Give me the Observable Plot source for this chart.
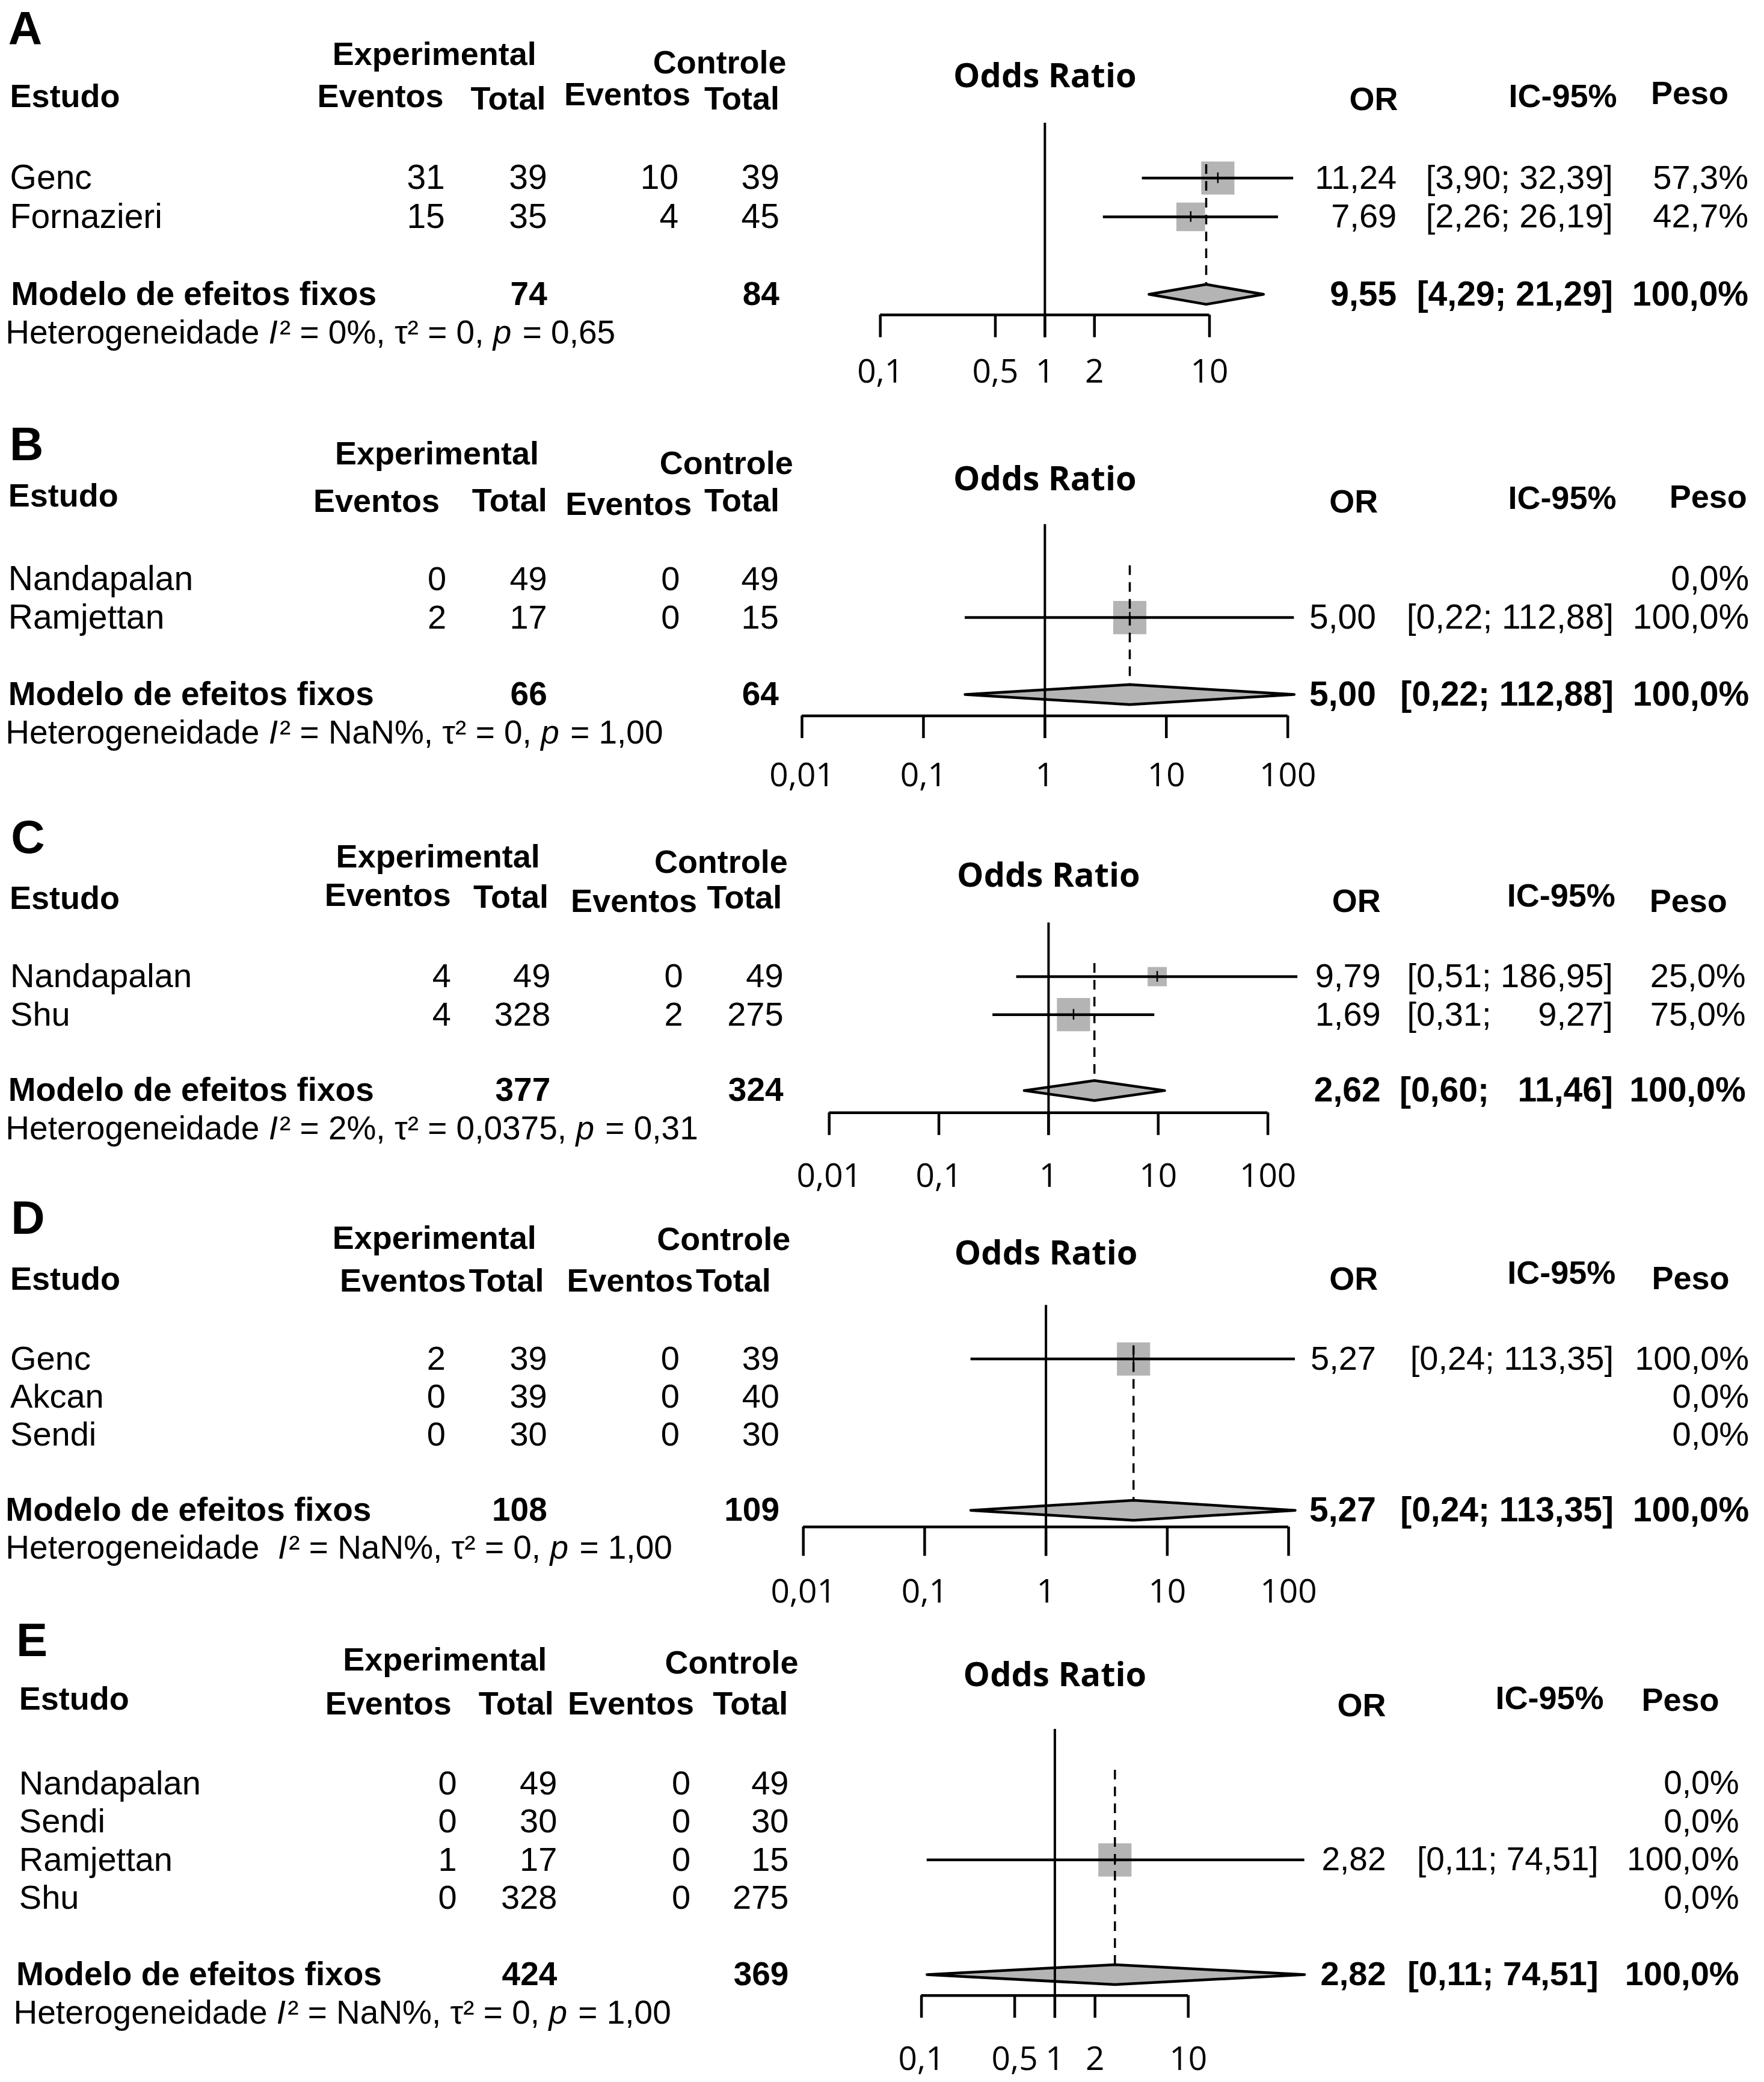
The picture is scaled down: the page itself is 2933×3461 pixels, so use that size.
<!DOCTYPE html>
<html>
<head>
<meta charset="utf-8">
<script src="https://cdn.jsdelivr.net/npm/d3@7"></script>
<script src="https://cdn.jsdelivr.net/npm/@observablehq/plot@0.6"></script>
<style>
html, body { margin: 0; padding: 0; background: #fff; }
#fig { position: relative; width: 2933px; height: 3461px; overflow: hidden; background: #fff; }
#fig svg { position: absolute; left: 0; background: transparent !important; max-width: none !important; }
</style>
</head>
<body>
<div id="fig"></div>
<script>
// ---------------- data ----------------
const panelLetters = ["A", "B", "C", "D", "E"];
const groupHeaders = ["Experimental", "Controle"];
const columnHeaders = ["Estudo", "Eventos", "Total", "Eventos", "Total"];
const rightHeaders = ["OR", "IC-95%", "Peso"];
const forestTitle = "Odds Ratio";
const modelLabel = "Modelo de efeitos fixos";
const hetLabel = "Heterogeneidade";

// Panel A
const studiesA = ["Genc", "Fornazieri"];
const expEventsA = [31, 15];
const expTotalA = [39, 35];
const ctlEventsA = [10, 4];
const ctlTotalA = [39, 45];
const orA = [11.24, 7.69];
const lowerA = [3.90, 2.26];
const upperA = [32.39, 26.19];
const weightA = [57.3, 42.7];
const pooledA = [9.55, 4.29, 21.29];
const totalsA = [74, 84];
const ticksA = [0.1, 0.5, 1, 2, 10];

// Panel B
const studiesB = ["Nandapalan", "Ramjettan"];
const expEventsB = [0, 2];
const expTotalB = [49, 17];
const ctlEventsB = [0, 0];
const ctlTotalB = [49, 15];
const orB = [null, 5.00];
const lowerB = [null, 0.22];
const upperB = [null, 112.88];
const weightB = [0, 100];
const pooledB = [5.00, 0.22, 112.88];
const totalsB = [66, 64];
const ticksB = [0.01, 0.1, 1, 10, 100];

// Panel C
const studiesC = ["Nandapalan", "Shu"];
const expEventsC = [4, 4];
const expTotalC = [49, 328];
const ctlEventsC = [0, 2];
const ctlTotalC = [49, 275];
const orC = [9.79, 1.69];
const lowerC = [0.51, 0.31];
const upperC = [186.95, 9.27];
const weightC = [25.0, 75.0];
const pooledC = [2.62, 0.60, 11.46];
const totalsC = [377, 324];
const ticksC = [0.01, 0.1, 1, 10, 100];

// Panel D
const studiesD = ["Genc", "Akcan", "Sendi"];
const expEventsD = [2, 0, 0];
const expTotalD = [39, 39, 30];
const ctlEventsD = [0, 0, 0];
const ctlTotalD = [39, 40, 30];
const orD = [5.27, null, null];
const lowerD = [0.24, null, null];
const upperD = [113.35, null, null];
const weightD = [100, 0, 0];
const pooledD = [5.27, 0.24, 113.35];
const totalsD = [108, 109];
const ticksD = [0.01, 0.1, 1, 10, 100];

// Panel E
const studiesE = ["Nandapalan", "Sendi", "Ramjettan", "Shu"];
const expEventsE = [0, 0, 1, 0];
const expTotalE = [49, 30, 17, 328];
const ctlEventsE = [0, 0, 0, 0];
const ctlTotalE = [49, 30, 15, 275];
const orE = [null, null, 2.82, null];
const lowerE = [null, null, 0.11, null];
const upperE = [null, null, 74.51, null];
const weightE = [0, 0, 100, 0];
const pooledE = [2.82, 0.11, 74.51];
const totalsE = [424, 369];
const ticksE = [0.1, 0.5, 1, 2, 10];

// heterogeneity statistics per panel (A..E)
const hetI2 = [0, NaN, 2, NaN, NaN];
const hetTau2 = [0, 0, 0.0375, 0, 0];
const hetP = [0.65, 1.00, 0.31, 1.00, 1.00];

// ---------------- layout (reference units; 1329 wide) ----------------
const W = 2933;
const S = 2933 / 1329;
const LIB = "'Liberation Sans', Arial, sans-serif";
const OPEN = "'Open Sans', 'Noto Sans', sans-serif";

const layouts = [
  { top: 0, bottom: 305, y0: 133.9, step: 29.2, modelRow: 3,
    letter: [6, 22], groups: [[327, 40.8], [542, 47]],
    heads: [[7.3, 72.8], [334, 72.8], [411, 74.6], [520, 71.4], [587, 74.6]],
    nameX: 7.3, cols: [335, 412, 511, 587], modelX: 8, hetX: 4, titleY: 57.4,
    rheads: [[1053, 75], [1218, 72.4], [1302, 70.5]], rcols: [1052, 1215, 1317],
    axis: [663, 911], axisY: 237, tickBottom: 254, tickLabel: 280 },
  { top: 305, bottom: 600, y0: 436, step: 29, modelRow: 3,
    letter: [7, 335], groups: [[329, 342], [547, 349]],
    heads: [[6, 373.6], [331, 377.5], [412, 377], [521, 380], [587, 377]],
    nameX: 6, cols: [336, 412, 512, 586.5], modelX: 6, hetX: 4, titleY: 361,
    rheads: [[1038, 378], [1217.5, 375.5], [1316, 374.5]], rcols: [1036.5, 1215.5, 1317.5],
    axis: [604, 970], axisY: 539, tickBottom: 556, tickLabel: 584 },
  { top: 600, bottom: 895, y0: 735.5, step: 28.6, modelRow: 3,
    letter: [8, 631], groups: [[329.7, 645.3], [543, 649.5]],
    heads: [[7, 676.7], [339.5, 674.6], [413, 675.8], [525, 679], [589, 676]],
    nameX: 7.5, cols: [339.6, 414.5, 514.4, 590], modelX: 6, hetX: 4, titleY: 659.5,
    rheads: [[1040, 679], [1216.8, 675], [1301, 679]], rcols: [1040, 1215, 1315],
    axis: [624.5, 955], axisY: 838, tickBottom: 855, tickLabel: 886 },
  { top: 895, bottom: 1210, y0: 1023.5, step: 28.5, modelRow: 4,
    letter: [8, 918], groups: [[327, 932.7], [545, 933.8]],
    heads: [[7.5, 963.6], [351, 965], [409.6, 965], [522, 965], [580.6, 965]],
    nameX: 7.5, cols: [335.5, 412, 511.7, 587], modelX: 4, hetX: 4, titleY: 944,
    rheads: [[1038, 963.6], [1217, 959], [1302.7, 963]], rcols: [1036.5, 1215.5, 1317.5],
    axis: [605, 970.6], axisY: 1150, tickBottom: 1172, tickLabel: 1199 },
  { top: 1210, bottom: 1568, y0: 1343.3, step: 28.8, modelRow: 5,
    letter: [12, 1236], groups: [[335, 1250.3], [551, 1252.5]],
    heads: [[14.2, 1280], [340, 1283.3], [417, 1283.3], [522.7, 1283.3], [593.5, 1283.3]],
    nameX: 14.2, cols: [344, 419.5, 520, 594], modelX: 12, hetX: 10, titleY: 1262,
    rheads: [[1044, 1285], [1208, 1279.6], [1295, 1281]], rcols: [1044, 1204, 1310],
    axis: [694, 895], axisY: 1503, tickBottom: 1520, tickLabel: 1551 }
];

const fonts = [
  { name: [LIB, 57], num: [LIB, 57], right: [LIB, 56], sum: [LIB, 57] },
  { name: [LIB, 57], num: [LIB, 56], right: [LIB, 57], sum: [LIB, 57] },
  { name: [LIB, 56], num: [LIB, 56], right: [LIB, 56], sum: [LIB, 57] },
  { name: [LIB, 56], num: [LIB, 56], right: [LIB, 56], sum: [LIB, 57] },
  { name: [LIB, 56], num: [LIB, 56], right: [LIB, 55], sum: [LIB, 56] }
];

const panels = [
  { studies: studiesA, expEvents: expEventsA, expTotal: expTotalA, ctlEvents: ctlEventsA, ctlTotal: ctlTotalA,
    or: orA, lower: lowerA, upper: upperA, weight: weightA, pooled: pooledA, totals: totalsA, ticks: ticksA },
  { studies: studiesB, expEvents: expEventsB, expTotal: expTotalB, ctlEvents: ctlEventsB, ctlTotal: ctlTotalB,
    or: orB, lower: lowerB, upper: upperB, weight: weightB, pooled: pooledB, totals: totalsB, ticks: ticksB },
  { studies: studiesC, expEvents: expEventsC, expTotal: expTotalC, ctlEvents: ctlEventsC, ctlTotal: ctlTotalC,
    or: orC, lower: lowerC, upper: upperC, weight: weightC, pooled: pooledC, totals: totalsC, ticks: ticksC },
  { studies: studiesD, expEvents: expEventsD, expTotal: expTotalD, ctlEvents: ctlEventsD, ctlTotal: ctlTotalD,
    or: orD, lower: lowerD, upper: upperD, weight: weightD, pooled: pooledD, totals: totalsD, ticks: ticksD },
  { studies: studiesE, expEvents: expEventsE, expTotal: expTotalE, ctlEvents: ctlEventsE, ctlTotal: ctlTotalE,
    or: orE, lower: lowerE, upper: upperE, weight: weightE, pooled: pooledE, totals: totalsE, ticks: ticksE }
];

// ---------------- helpers ----------------
const FIG = "\u2007";
const comma = (s) => s.replace(".", ",");
const fmt2 = (v) => comma(v.toFixed(2));
const fmtW = (v) => comma(v.toFixed(1)) + "%";
const fmtTick = (v) => comma(String(v));
const ctx = document.createElement("canvas").getContext("2d");
const measure = (s, font) => { ctx.font = font; return ctx.measureText(s).width; };

const HET_SIZE = 55;
function hetParts(k) {
  const I2 = isNaN(hetI2[k]) ? "NaN%" : `${hetI2[k]}%`;
  const tau = comma(String(hetTau2[k]));
  const p = fmt2(hetP[k]);
  return [
    [hetLabel + (k === 3 ? "  " : " "), false], ["I", true],
    [`\u00B2 = ${I2}, \u03C4\u00B2 = ${tau}, `, false], ["p", true], [` = ${p}`, false]
  ];
}

function buildText(P, L, F, k) {
  const H = (L.bottom - L.top) * S;
  const rows = P.studies.map((s, i) => ({ i, s, y: L.y0 + i * L.step }));
  const modelY = L.y0 + L.modelRow * L.step;
  const hetY = modelY + L.step;
  const uppers = P.upper.filter((v) => v != null).concat([P.pooled[2]]);
  const upW = d3.max(uppers, (v) => fmt2(v).length);
  const ci = (lo, hi) => `[${fmt2(lo)}; ${fmt2(hi).padStart(upW, FIG)}]`;
  const marks = [];
  const T = (data, opts) => marks.push(Plot.text(data, { x: "x", y: "y", text: "t", fill: "black", ...opts }));
  const bold = (fam, size) => ({ fontFamily: fam, fontWeight: "bold", fontSize: size });
  const reg = (fam, size) => ({ fontFamily: fam, fontSize: size });

  T([{ t: panelLetters[k], x: L.letter[0], y: L.letter[1] }], { textAnchor: "start", ...bold(LIB, 78) });
  T(groupHeaders.map((t, j) => ({ t, x: L.groups[j][0], y: L.groups[j][1] })), { textAnchor: "middle", ...bold(LIB, 54) });
  const heads = columnHeaders.map((t, j) => ({ t, x: L.heads[j][0], y: L.heads[j][1] }));
  T(heads.slice(0, 1), { textAnchor: "start", ...bold(LIB, 54) });
  T(heads.slice(1), { textAnchor: "end", ...bold(LIB, 54) });
  T(rightHeaders.map((t, j) => ({ t, x: L.rheads[j][0], y: L.rheads[j][1] })), { textAnchor: "end", ...bold(LIB, 54) });

  T(rows.map((r) => ({ t: r.s, x: L.nameX, y: r.y })), { textAnchor: "start", ...reg(F.name[0], F.name[1]) });
  const numCols = [P.expEvents, P.expTotal, P.ctlEvents, P.ctlTotal];
  T(rows.flatMap((r) => numCols.map((c, j) => ({ t: String(c[r.i]), x: L.cols[j], y: r.y }))),
    { textAnchor: "end", ...reg(F.num[0], F.num[1]) });
  T(rows.filter((r) => P.or[r.i] != null).flatMap((r) => [
      { t: fmt2(P.or[r.i]), x: L.rcols[0], y: r.y },
      { t: ci(P.lower[r.i], P.upper[r.i]), x: L.rcols[1], y: r.y }
    ]).concat(rows.map((r) => ({ t: fmtW(P.weight[r.i]), x: L.rcols[2], y: r.y }))),
    { textAnchor: "end", ...reg(F.right[0], F.right[1]) });

  T([{ t: modelLabel, x: L.modelX, y: modelY }], { textAnchor: "start", ...bold(LIB, 55) });
  T([{ t: String(P.totals[0]), x: L.cols[1], y: modelY }, { t: String(P.totals[1]), x: L.cols[3], y: modelY }],
    { textAnchor: "end", ...bold(LIB, 55) });
  T([
      { t: fmt2(P.pooled[0]), x: L.rcols[0], y: modelY },
      { t: ci(P.pooled[1], P.pooled[2]), x: L.rcols[1], y: modelY },
      { t: fmtW(d3.sum(P.weight)), x: L.rcols[2], y: modelY }
    ], { textAnchor: "end", ...bold(F.sum[0], F.sum[1]) });

  // heterogeneity line: consecutive pieces, italic I and p
  let off = 0;
  const hetItems = hetParts(k).map(([t, it]) => {
    const item = { t, it, x: L.hetX + off / S, y: hetY };
    off += measure(t, `${it ? "italic " : ""}${HET_SIZE}px ${LIB}`) + (it ? 3 : 0);
    return item;
  });
  T(hetItems.filter((d) => !d.it), { textAnchor: "start", ...reg(LIB, HET_SIZE) });
  T(hetItems.filter((d) => d.it), { textAnchor: "start", fontStyle: "italic", ...reg(LIB, HET_SIZE) });

  return Plot.plot({
    width: W, height: H, margin: 0,
    x: { type: "linear", domain: [0, 1329], range: [0, W], axis: null },
    y: { type: "linear", domain: [L.top, L.bottom], range: [0, H], axis: null },
    style: { background: "transparent", overflow: "visible" },
    marks
  });
}

function buildForest(P, L) {
  const H = (L.bottom - L.top) * S;
  const rows = P.studies.map((s, i) => ({ or: P.or[i], lo: P.lower[i], hi: P.upper[i], w: P.weight[i], y: L.y0 + i * L.step }))
    .filter((d) => d.or != null);
  const modelY = L.y0 + L.modelRow * L.step;
  const [pOR, pLo, pHi] = P.pooled;
  const h = 7.5;
  const diamond = [
    { x: pLo, y: modelY }, { x: pOR, y: modelY - h }, { x: pHi, y: modelY },
    { x: pOR, y: modelY + h }, { x: pLo, y: modelY }
  ];
  const t0 = P.ticks[0], tN = P.ticks[P.ticks.length - 1];
  const side = 25 * S;
  return Plot.plot({
    width: W, height: H, margin: 0,
    x: { type: "log", domain: [t0, tN], range: [L.axis[0] * S, L.axis[1] * S], axis: null },
    y: { type: "linear", domain: [L.top, L.bottom], range: [0, H], axis: null },
    r: { type: "sqrt", domain: [0, d3.max(P.weight)], range: [0, side / Math.sqrt(Math.PI)] },
    style: { background: "transparent", overflow: "visible" },
    marks: [
      Plot.dot(rows, { x: "or", y: "y", r: "w", symbol: "square", fill: "#b4b4b4" }),
      Plot.ruleY(rows, { x1: "lo", x2: "hi", y: "y", stroke: "black", strokeWidth: 4.5 }),
      Plot.ruleX(rows, { x: "or", y1: (d) => d.y - 4, y2: (d) => d.y + 4, stroke: "black", strokeWidth: 2.5 }),
      Plot.line(diamond, { x: "x", y: "y", fill: "#b4b4b4", stroke: "black", strokeWidth: 4.5, strokeLinejoin: "round" }),
      Plot.ruleX([pOR], { x: (d) => d, y1: L.y0 - 0.35 * L.step, y2: modelY - h, stroke: "black", strokeWidth: 3.5, strokeDasharray: "16,12" }),
      Plot.ruleX([1], { x: (d) => d, y1: L.y0 - 1.42 * L.step, y2: L.tickBottom, stroke: "black", strokeWidth: 4 }),
      Plot.ruleY([L.axisY], { y: (d) => d, x1: t0, x2: tN, stroke: "black", strokeWidth: 4.5 }),
      Plot.ruleX(P.ticks, { x: (d) => d, y1: L.axisY, y2: L.tickBottom, stroke: "black", strokeWidth: 4.5 }),
      Plot.text(P.ticks, { x: (d) => d, y: L.tickLabel, text: fmtTick, fontFamily: OPEN, fontSize: 55, fill: "black" }),
      Plot.text([forestTitle], { x: 1, y: L.titleY, text: (d) => d, fontFamily: OPEN, fontWeight: "bold", fontSize: 56, fill: "black" })
    ]
  });
}

// ---------------- render ----------------
const fig = document.getElementById("fig");
panels.forEach((P, k) => {
  const L = layouts[k];
  for (const svg of [buildForest(P, L), buildText(P, L, fonts[k], k)]) {
    svg.style.position = "absolute";
    svg.style.left = "0px";
    svg.style.top = (L.top * S) + "px";
    fig.appendChild(svg);
  }
});
</script>
</body>
</html>
